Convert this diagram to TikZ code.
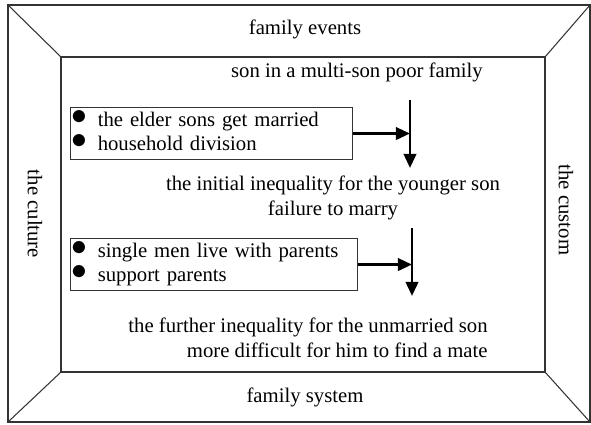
\documentclass[tikz,border=0pt]{standalone}
\usepackage{fontspec}
\setmainfont{Liberation Serif}
\usepackage{graphicx}
\usetikzlibrary{arrows.meta}

\newcommand{\blt}{\raisebox{1pt}{\scalebox{1.5}{$\bullet$}}}

\begin{document}
\begin{tikzpicture}[
  x=0.02cm, y=-0.02cm,
  >={Triangle[length=8pt, width=7pt]},
  frame/.style={draw=black!80, line width=0.6pt},
  lbl/.style={font=\fontsize{11.8}{14.5}\selectfont, inner sep=0pt},
  listbox/.style={rectangle, draw=black!80, line width=0.6pt, anchor=north west,
    font=\fontsize{11.8}{14}\selectfont, text width=5.54cm, align=left,
    minimum height=1.04cm, inner xsep=1.5pt, inner ysep=0pt},
  flow/.style={->, line width=1.6pt}
]
  \useasboundingbox (0,0) rectangle (591,424);

  % frame
  \coordinate (o1) at (8,5);
  \coordinate (o2) at (590,5);
  \coordinate (o3) at (590,422);
  \coordinate (o4) at (8,422);
  \coordinate (i1) at (61,57);
  \coordinate (i2) at (545,57);
  \coordinate (i3) at (545,372);
  \coordinate (i4) at (61,372);
  \draw[frame] (o1) -- (o2) -- (o3) -- (o4) -- cycle;
  \draw[frame] (i1) -- (i2) -- (i3) -- (i4) -- cycle;
  \draw[frame] (o1) -- (i1) (o2) -- (i2) (o3) -- (i3) (o4) -- (i4);

  \node[lbl] (events) at (305,29) {family events};
  \node[lbl] (system) at (305,397) {family system};
  \node[lbl, rotate=-90] (culture) at (35,214) {the culture};
  \node[lbl, rotate=-90] (custom) at (566,210) {the custom};

  % first step
  \node[lbl] (son) at (357,72) {son in a multi-son poor family};
  \node[listbox] (box1) at (70,107) {%
    \begin{tabular}{@{\hspace{-1pt}}l@{\hspace{6pt}}l@{}}
      \blt & the elder sons get married\\
      \blt & household division
    \end{tabular}};
  \coordinate (top1) at (410,100);
  \coordinate (tip1) at (410,168);
  \draw[flow] (top1) -- (tip1);
  \draw[flow] (box1.east) -- (box1.east -| top1);
  \node[lbl, align=center] (initial) at (333,198)
    {the initial inequality for the younger son\\failure to marry};

  % second step
  \node[listbox, text width=5.64cm] (box2) at (70,238) {%
    \begin{tabular}{@{\hspace{-1pt}}l@{\hspace{6pt}}l@{}}
      \blt & single men live with parents\\
      \blt & support parents
    \end{tabular}};
  \coordinate (top2) at (412,228);
  \coordinate (tip2) at (412,296);
  \draw[flow] (top2) -- (tip2);
  \draw[flow] (box2.east) -- (box2.east -| top2);
  \node[lbl, align=right] (further) at (308,338)
    {the further inequality for the unmarried son\\more difficult for him to find a mate};
\end{tikzpicture}
\end{document}
